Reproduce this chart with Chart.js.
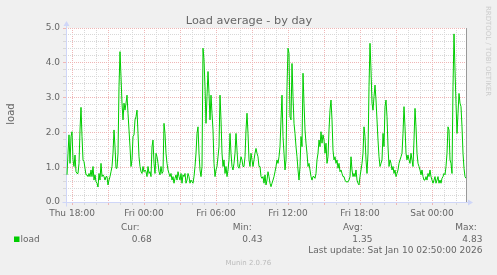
<!DOCTYPE html>
<html><head><meta charset="utf-8">
<script src="https://cdn.jsdelivr.net/npm/chart.js@4/dist/chart.umd.min.js"></script>
<style>html,body{margin:0;padding:0;background:#f0f0f0;overflow:hidden}canvas{display:block}</style>
</head><body>
<canvas id="c" width="497" height="275"></canvas>
<script>
const chartTitle = 'Load average - by day';
const yAxisTitle = 'load';
const seriesName = 'load';
// load average, one sample per 5-minute step (Thu 17:35 ... Sat 02:50)
const loadValues = [
0.78,1.40,1.93,1.11,1.88,2.02,1.21,1.02,1.35,0.87,
0.82,0.82,1.11,2.07,2.72,1.88,1.21,1.16,0.97,0.78,
0.78,0.73,0.82,0.73,0.92,0.73,1.02,0.63,0.78,0.58,
0.54,0.43,0.82,0.63,1.11,0.73,0.78,0.73,0.63,0.73,
0.73,0.49,0.63,0.73,0.87,1.02,1.40,2.07,1.59,0.97,
0.97,1.40,3.31,4.32,3.60,2.84,2.36,2.84,2.64,2.84,
3.07,2.55,2.07,1.59,1.02,1.21,1.88,1.93,2.36,2.45,
2.64,1.97,1.30,1.02,0.87,0.82,1.02,0.87,0.92,0.87,
0.73,1.02,0.82,0.87,0.73,1.59,1.78,1.11,0.82,1.40,
1.30,1.11,0.87,0.78,1.02,0.82,0.87,2.26,1.97,1.40,
1.11,0.92,0.82,0.73,0.82,0.63,0.73,0.54,0.68,0.78,
0.63,0.87,0.73,0.63,0.82,0.54,0.78,0.73,0.82,0.54,
0.63,0.82,0.73,0.54,0.63,0.58,0.54,0.73,1.02,1.40,
1.97,2.16,1.40,0.92,0.73,1.02,4.42,4.08,3.31,2.26,
3.03,3.75,3.12,2.36,3.07,2.55,2.07,1.11,0.73,0.92,
1.02,1.30,1.59,3.07,2.36,1.40,1.02,1.21,0.82,1.02,
0.73,0.92,1.21,1.97,1.40,1.02,0.92,1.11,1.40,1.97,
1.49,1.02,0.97,1.11,1.30,1.21,1.02,1.02,1.30,2.07,
2.55,1.97,1.21,1.02,1.40,1.21,1.02,1.21,1.40,1.54,
1.40,1.30,1.02,
1.02,0.73,0.68,0.73,0.54,0.78,0.49,0.63,0.87,0.73,
0.54,0.44,0.54,0.63,0.73,0.87,1.02,1.21,1.11,1.30,
1.59,2.36,3.07,1.88,1.40,0.92,1.21,3.31,4.42,4.27,
2.45,2.36,3.98,3.03,2.26,1.97,1.59,1.30,0.92,0.63,
1.02,1.88,1.59,3.70,2.84,2.07,1.69,1.40,1.02,1.11,
0.92,0.73,0.63,0.73,0.73,0.68,0.82,1.21,1.40,1.78,
1.59,2.02,1.69,1.93,1.78,1.40,1.69,1.11,1.30,2.07,
2.64,2.93,2.36,1.49,1.21,1.30,1.11,1.21,0.97,1.11,
0.87,0.92,0.82,0.73,0.73,0.63,0.58,0.58,0.58,0.63,
0.73,1.30,0.92,0.73,0.82,0.73,0.92,0.63,0.54,0.49,
0.73,0.92,1.11,1.40,2.16,1.88,1.21,0.82,1.40,3.31,
4.56,3.79,2.84,2.64,3.03,3.36,2.93,2.36,1.78,1.30,
1.02,1.11,1.21,1.97,1.59,2.74,2.93,2.45,1.59,1.02,
1.21,1.11,0.92,1.02,0.82,0.92,0.73,0.82,0.92,1.11,
1.21,1.30,1.40,1.97,2.74,2.16,1.40,1.21,1.35,1.21,
1.11,1.40,1.21,1.02,1.78,2.69,2.16,1.40,1.11,1.02,
0.92,0.78,0.92,0.73,0.63,0.63,0.73,0.63,0.82,0.73,
0.92,0.73,0.63,0.54,0.63,0.73,0.54,0.63,0.73,0.54,
0.63,0.54,0.68,0.73,0.82,0.78,1.02,1.40,2.16,2.07,
1.21,1.11,0.82,3.31,4.83,3.79,2.84,1.97,2.55,3.12,
2.84,2.74,2.16,1.40,0.97,0.73,0.68
];
const firstSampleStep = 1;      // steps of 5 minutes after Thu 17:30
const windowSteps = 400;        // Thu 17:30 ... Sat 02:50
const hourGridFirst = 6;        // Thu 18:00
const hourGridEvery = 12;       // one hour
const majorGridEvery = 36;      // three hours
const xTickSteps  = [6, 78, 150, 222, 294, 366];
const xTickLabels = ['Thu 18:00', 'Fri 00:00', 'Fri 06:00', 'Fri 12:00', 'Fri 18:00', 'Sat 00:00'];
const yMax = 5;
const yMinorStep = 0.2;
const yTickValues = [0, 1, 2, 3, 4, 5];
const yTickLabels = ['0.0', '1.0', '2.0', '3.0', '4.0', '5.0'];
const legendHeads  = ['Cur:', 'Min:', 'Avg:', 'Max:'];
const legendValues = ['0.68', '0.43', '1.35', '4.83'];
const lastUpdate = 'Last update: Sat Jan 10 02:50:00 2026';
const footerText = 'Munin 2.0.76';
const watermark = 'RRDTOOL / TOBI OETIKER';

const FONT = "'DejaVu Sans', 'Liberation Sans', sans-serif";
const TEXT = '#666666';
const GRID_MINOR = '#d8d8d8';
const GRID_MAJOR = '#efb6b6';
const AXIS = '#cfd6f8';
const LINE = '#00cc00';

const points = loadValues.map((v, i) => ({x: firstSampleStep + i, y: v}));

const rrdPlugin = {
  id: 'rrd',
  beforeDraw(chart) {
    const {ctx, chartArea: a} = chart;
    ctx.save();
    ctx.fillStyle = '#f0f0f0';
    ctx.fillRect(0, 0, chart.width, chart.height);
    ctx.fillStyle = '#ffffff';
    ctx.fillRect(a.left, a.top, a.right - a.left + 1, a.bottom - a.top);
    ctx.restore();
  },
  beforeDatasetsDraw(chart) {
    const {ctx, chartArea: a} = chart;
    const x0 = Math.round(a.left) + 0.5, y0 = Math.round(a.bottom) + 0.5;
    const xr = Math.round(a.right), yt = Math.round(a.top);
    ctx.save();
    ctx.strokeStyle = AXIS; ctx.fillStyle = AXIS; ctx.lineWidth = 1;
    ctx.beginPath();
    ctx.moveTo(x0 - 4, y0); ctx.lineTo(xr + 4, y0);
    ctx.moveTo(x0, y0 + 4); ctx.lineTo(x0, yt - 4);
    ctx.stroke();
    ctx.beginPath();
    ctx.moveTo(xr + 2, y0 - 3); ctx.lineTo(xr + 2, y0 + 3); ctx.lineTo(xr + 7, y0); ctx.closePath();
    ctx.fill();
    ctx.beginPath();
    ctx.moveTo(x0 - 3, yt - 2); ctx.lineTo(x0 + 3, yt - 2); ctx.lineTo(x0, yt - 7); ctx.closePath();
    ctx.fill();
    ctx.restore();
  },
  afterDatasetsDraw(chart) {
    const {ctx, chartArea: a, scales} = chart;
    const xr = Math.round(scales.x.getPixelForValue(windowSteps)) + 0.5;
    ctx.save();
    ctx.strokeStyle = '#999999'; ctx.lineWidth = 1;
    ctx.beginPath(); ctx.moveTo(xr, a.top); ctx.lineTo(xr, a.bottom); ctx.stroke();
    ctx.restore();
  },
  afterDraw(chart) {
    const {ctx} = chart;
    ctx.save();
    ctx.fillStyle = TEXT;
    ctx.textBaseline = 'middle';
    // title
    ctx.font = `11.3px ${FONT}`;
    ctx.textAlign = 'center';
    ctx.fillText(chartTitle, 249, 21.5);
    // y axis title
    ctx.save();
    ctx.translate(11, 114);
    ctx.rotate(-Math.PI / 2);
    ctx.font = `10px ${FONT}`;
    ctx.fillText(yAxisTitle, 0, 0);
    ctx.restore();
    // legend
    ctx.font = `9px ${FONT}`;
    const headX = [139.5, 251.8, 362.8, 476.8];
    const valX = [151.8, 262.4, 372.4, 482.4];
    ctx.textAlign = 'right';
    legendHeads.forEach((h, i) => ctx.fillText(h, headX[i], 227.5));
    legendValues.forEach((v, i) => ctx.fillText(v, valX[i], 239.3));
    ctx.fillText(lastUpdate, 482.4, 250.8);
    ctx.textAlign = 'left';
    ctx.fillText(seriesName, 20.5, 239.3);
    ctx.fillStyle = LINE;
    ctx.fillRect(14, 236.5, 5.5, 5.5);
    // footer
    ctx.fillStyle = '#bbbbbb';
    ctx.font = `7px ${FONT}`;
    ctx.textAlign = 'center';
    ctx.fillText(footerText, 248.3, 263.3);
    // watermark
    ctx.save();
    ctx.fillStyle = '#cccccc';
    ctx.translate(487.5, 51);
    ctx.rotate(Math.PI / 2);
    ctx.font = `7px ${FONT}`;
    ctx.fillText(watermark, 0, 0);
    ctx.restore();
    ctx.restore();
  }
};

new Chart(document.getElementById('c'), {
  type: 'line',
  data: {
    datasets: [{
      label: seriesName,
      data: points,
      borderColor: LINE,
      borderWidth: 1,
      pointRadius: 0,
      tension: 0,
      fill: false
    }]
  },
  options: {
    responsive: false,
    animation: false,
    devicePixelRatio: 1,
    layout: {padding: {left: 0, right: 31, top: 28, bottom: 53}},
    plugins: {legend: {display: false}, title: {display: false}, tooltip: {enabled: false}},
    scales: {
      x: {
        type: 'linear',
        min: 0, max: windowSteps,
        afterBuildTicks(scale) {
          const t = [];
          for (let s = hourGridFirst; s < windowSteps; s += hourGridEvery) t.push({value: s});
          scale.ticks = t;
        },
        afterFit(scale) { scale.height = 20; },
        ticks: {
          autoSkip: false, maxRotation: 0, minRotation: 0, padding: 3,
          color: TEXT, font: {family: FONT, size: 9},
          callback(v) { const i = xTickSteps.indexOf(v); return i >= 0 ? xTickLabels[i] : ''; }
        },
        grid: {
          drawTicks: true, tickLength: 3, lineWidth: 1,
          color: c => ((c.tick.value - hourGridFirst) % majorGridEvery === 0 ? GRID_MAJOR : GRID_MINOR),
          tickColor: c => ((c.tick.value - hourGridFirst) % majorGridEvery === 0 ? GRID_MAJOR : GRID_MINOR)
        },
        border: {display: false, dash: [1, 1]}
      },
      y: {
        type: 'linear',
        min: 0, max: yMax,
        afterBuildTicks(scale) {
          const t = [];
          const n = Math.round(yMax / yMinorStep);
          for (let k = 0; k <= n; k++) t.push({value: +(k * yMinorStep).toFixed(1)});
          scale.ticks = t;
        },
        afterFit(scale) { scale.width = 66; },
        ticks: {
          autoSkip: false, padding: 3,
          color: TEXT, font: {family: FONT, size: 9},
          callback(v) {
            const i = yTickValues.findIndex(t => Math.abs(t - v) < 1e-6);
            return i >= 0 ? yTickLabels[i] : '';
          }
        },
        grid: {
          drawTicks: true, tickLength: 3, lineWidth: 1,
          color: c => (c.tick.value === 0 ? 'rgba(0,0,0,0)' : (Math.abs(c.tick.value - Math.round(c.tick.value)) < 1e-6 ? GRID_MAJOR : GRID_MINOR)),
          tickColor: c => (Math.abs(c.tick.value - Math.round(c.tick.value)) < 1e-6 ? GRID_MAJOR : GRID_MINOR)
        },
        border: {display: false, dash: [1, 1]}
      }
    }
  },
  plugins: [rrdPlugin]
});
</script>
</body></html>
